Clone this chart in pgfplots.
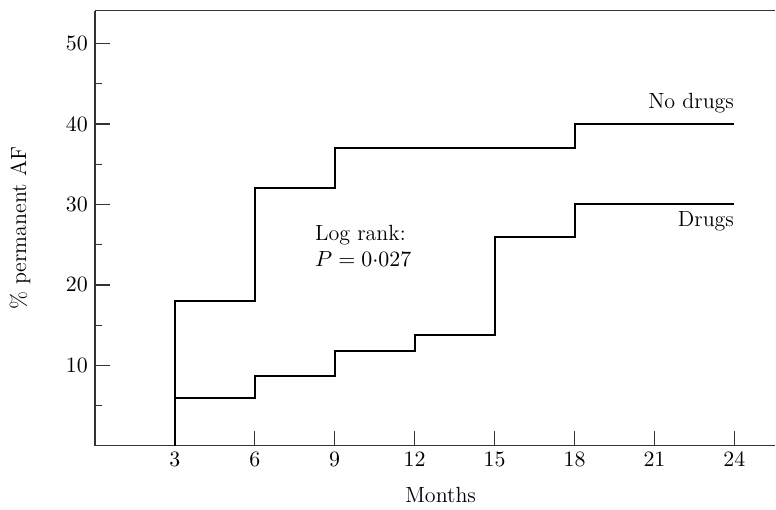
\documentclass[border=0pt]{standalone}
\usepackage{pgfplots}
\pgfplotsset{compat=1.18}
\begin{document}
\begin{tikzpicture}[font=\fontsize{11}{13}\selectfont]
\begin{axis}[
  scale only axis,
  width=340.5pt, height=217.7pt,
  xmin=0, xmax=25.54, ymin=0, ymax=54.1,
  axis x line=box, axis y line=left,
  axis line style={-, black!80, line width=0.6pt},
  xtick pos=bottom,
  tick align=inside,
  xtick={3,6,...,24},
  ytick={10,20,...,50},
  minor ytick={5,15,...,45},
  major tick length=7.5pt,
  minor tick length=3.5pt,
  tick style={black!80, line width=0.6pt},
  tick label style={font=\fontsize{11}{13}\selectfont},
  xlabel={Months},
  ylabel={\% permanent AF},
  label style={font=\fontsize{11}{13}\selectfont},
  xlabel style={at={(axis description cs:0.508,0)}, anchor=center, yshift=-24.5pt},
  ylabel style={at={(axis description cs:-0.110,0.5)}, anchor=center},
  clip=false,
]
\addplot[const plot, black, line width=1pt] coordinates {
  (3,0) (3,18) (6,32) (9,37) (12,37) (15,37) (18,40) (24,40)
};
\addplot[const plot, black, line width=1pt] coordinates {
  (3,0) (3,5.9) (6,8.7) (9,11.8) (12,13.8) (15,26) (18,30) (24,30)
};
\node[anchor=east, inner sep=0pt] at (axis cs:24,42.6) {No drugs};
\node[anchor=east, inner sep=0pt] at (axis cs:24,27.9) {Drugs};
\node[anchor=south west, inner sep=0pt] at (axis cs:8.25,24.9) {Log rank:};
\node[anchor=north west, inner sep=0pt] at (axis cs:8.25,24.2) {$P = 0{\cdot}027$};
\end{axis}
\path ([xshift=-47.5pt,yshift=-29pt]current axis.south west) rectangle ([yshift=5.35pt]current axis.north east);
\end{tikzpicture}
\end{document}
